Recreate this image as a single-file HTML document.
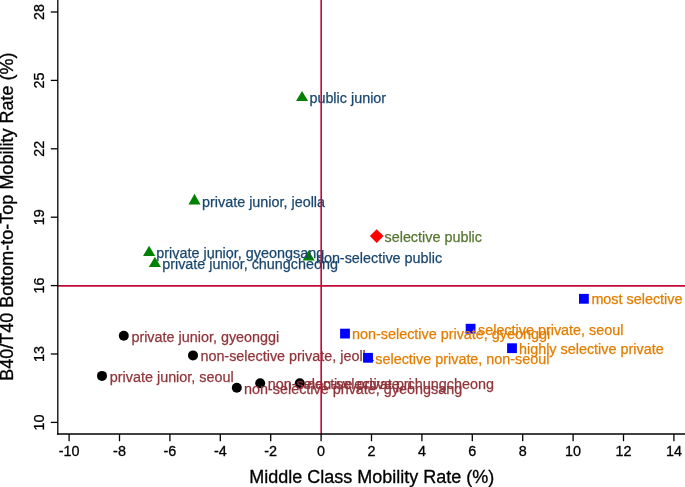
<!DOCTYPE html>
<html><head><meta charset="utf-8"><title>Mobility scatter</title>
<style>
html,body{margin:0;padding:0;background:#fff;}
svg{display:block;font-family:"Liberation Sans",Arial,Helvetica,sans-serif;}
.lb{font-size:14.38px;stroke-width:0.25px;}
.tk{font-size:14.38px;fill:#000;stroke:#000;stroke-width:0.3px;}
.tt{font-size:18px;fill:#000;stroke:#000;stroke-width:0.3px;}
</style></head><body>
<svg width="685" height="487" viewBox="0 0 685 487">
<rect width="685" height="487" fill="#fff"/>
<g fill="#000">
<circle cx="123.8" cy="335.8" r="5.0"/>
<circle cx="193" cy="355.4" r="5.0"/>
<circle cx="102" cy="375.9" r="5.0"/>
<circle cx="236.8" cy="387.7" r="5.0"/>
<circle cx="260.2" cy="383.3" r="5.0"/>
<circle cx="299.8" cy="383.3" r="5.0"/>
</g>
<g class="lb" fill="#90353b" stroke="#90353b">
<text x="131.4" y="342.0">private junior, gyeonggi</text>
<text x="200.4" y="361.3">non-selective private, jeolla</text>
<text x="109.8" y="382.0">private junior, seoul</text>
<text x="244.0" y="393.6">non-selective private, gyeongsang</text>
<text x="267.8" y="389.3">non-selective private, chungcheong</text>
<text x="307.2" y="389.3">non-selective pri</text>
</g>
<g fill="#0000ff">
<rect x="579.00" y="293.90" width="9.8" height="9.8"/>
<rect x="465.70" y="323.80" width="9.8" height="9.8"/>
<rect x="340.10" y="328.70" width="9.8" height="9.8"/>
<rect x="507.10" y="343.30" width="9.8" height="9.8"/>
<rect x="363.10" y="352.90" width="9.8" height="9.8"/>
</g>
<g class="lb" fill="#e37e00" stroke="#e37e00">
<text x="591.4" y="304.3">most selective</text>
<text x="478.0" y="334.6">selective private, seoul</text>
<text x="352.0" y="339.4">non-selective private, gyeonggi</text>
<text x="519.0" y="354.2">highly selective private</text>
<text x="375.3" y="363.5">selective private, non-seoul</text>
</g>
<g fill="#008000">
<polygon points="302.05,90.9 308.1,101.0 296.0,101.0"/>
<polygon points="194.5,193.8 200.55,204.4 188.45,204.4"/>
<polygon points="149.1,245.7 155.15,256.0 143.04999999999998,256.0"/>
<polygon points="154.9,256.8 160.95000000000002,266.9 148.85,266.9"/>
<polygon points="308.6,250.3 314.65000000000003,260.6 302.55,260.6"/>
</g>
<g class="lb" fill="#1a476f" stroke="#1a476f">
<text x="309.4" y="103.1">public junior</text>
<text x="202.0" y="206.7">private junior, jeolla</text>
<text x="156.3" y="258.3">private junior, gyeongsang</text>
<text x="162.2" y="268.8">private junior, chungcheong</text>
<text x="315.9" y="262.8">non-selective public</text>
</g>
<polygon fill="#ff0000" points="376.7,229.29999999999998 383.5,236.1 376.7,242.9 369.9,236.1"/>
<text class="lb" fill="#55752f" stroke="#55752f" x="384.5" y="241.7">selective public</text>
<g stroke="#c20a38" stroke-width="1.65">
<line x1="321.2" y1="0" x2="321.2" y2="434.0"/>
<line x1="58" y1="285.85" x2="685" y2="285.85"/>
</g>
<g stroke="#000" stroke-width="1.3" fill="none">
<line x1="57.8" y1="0" x2="57.8" y2="434.65"/>
<line x1="57.15" y1="434.0" x2="685" y2="434.0"/>
<line x1="69.10" y1="434.0" x2="69.10" y2="441.2"/>
<line x1="119.50" y1="434.0" x2="119.50" y2="441.2"/>
<line x1="169.90" y1="434.0" x2="169.90" y2="441.2"/>
<line x1="220.30" y1="434.0" x2="220.30" y2="441.2"/>
<line x1="270.70" y1="434.0" x2="270.70" y2="441.2"/>
<line x1="321.10" y1="434.0" x2="321.10" y2="441.2"/>
<line x1="371.50" y1="434.0" x2="371.50" y2="441.2"/>
<line x1="421.90" y1="434.0" x2="421.90" y2="441.2"/>
<line x1="472.30" y1="434.0" x2="472.30" y2="441.2"/>
<line x1="522.70" y1="434.0" x2="522.70" y2="441.2"/>
<line x1="573.10" y1="434.0" x2="573.10" y2="441.2"/>
<line x1="623.50" y1="434.0" x2="623.50" y2="441.2"/>
<line x1="673.90" y1="434.0" x2="673.90" y2="441.2"/>
<line x1="50.8" y1="422.40" x2="58" y2="422.40"/>
<line x1="50.8" y1="354.00" x2="58" y2="354.00"/>
<line x1="50.8" y1="285.60" x2="58" y2="285.60"/>
<line x1="50.8" y1="217.20" x2="58" y2="217.20"/>
<line x1="50.8" y1="148.80" x2="58" y2="148.80"/>
<line x1="50.8" y1="80.40" x2="58" y2="80.40"/>
<line x1="50.8" y1="12.00" x2="58" y2="12.00"/>
</g>
<g class="tk" text-anchor="middle">
<text x="69.10" y="455.7">-10</text>
<text x="119.50" y="455.7">-8</text>
<text x="169.90" y="455.7">-6</text>
<text x="220.30" y="455.7">-4</text>
<text x="270.70" y="455.7">-2</text>
<text x="321.10" y="455.7">0</text>
<text x="371.50" y="455.7">2</text>
<text x="421.90" y="455.7">4</text>
<text x="472.30" y="455.7">6</text>
<text x="522.70" y="455.7">8</text>
<text x="573.10" y="455.7">10</text>
<text x="623.50" y="455.7">12</text>
<text x="673.90" y="455.7">14</text>
<text transform="translate(44.2,422.40) rotate(-90)">10</text>
<text transform="translate(44.2,354.00) rotate(-90)">13</text>
<text transform="translate(44.2,285.60) rotate(-90)">16</text>
<text transform="translate(44.2,217.20) rotate(-90)">19</text>
<text transform="translate(44.2,148.80) rotate(-90)">22</text>
<text transform="translate(44.2,80.40) rotate(-90)">25</text>
<text transform="translate(44.2,12.00) rotate(-90)">28</text>
</g>
<text class="tt" text-anchor="middle" x="371.8" y="482.5">Middle Class Mobility Rate (%)</text>
<text class="tt" text-anchor="middle" transform="translate(12.7,216.65) rotate(-90)">B40/T40 Bottom-to-Top Mobility Rate (%)</text>
</svg></body></html>
